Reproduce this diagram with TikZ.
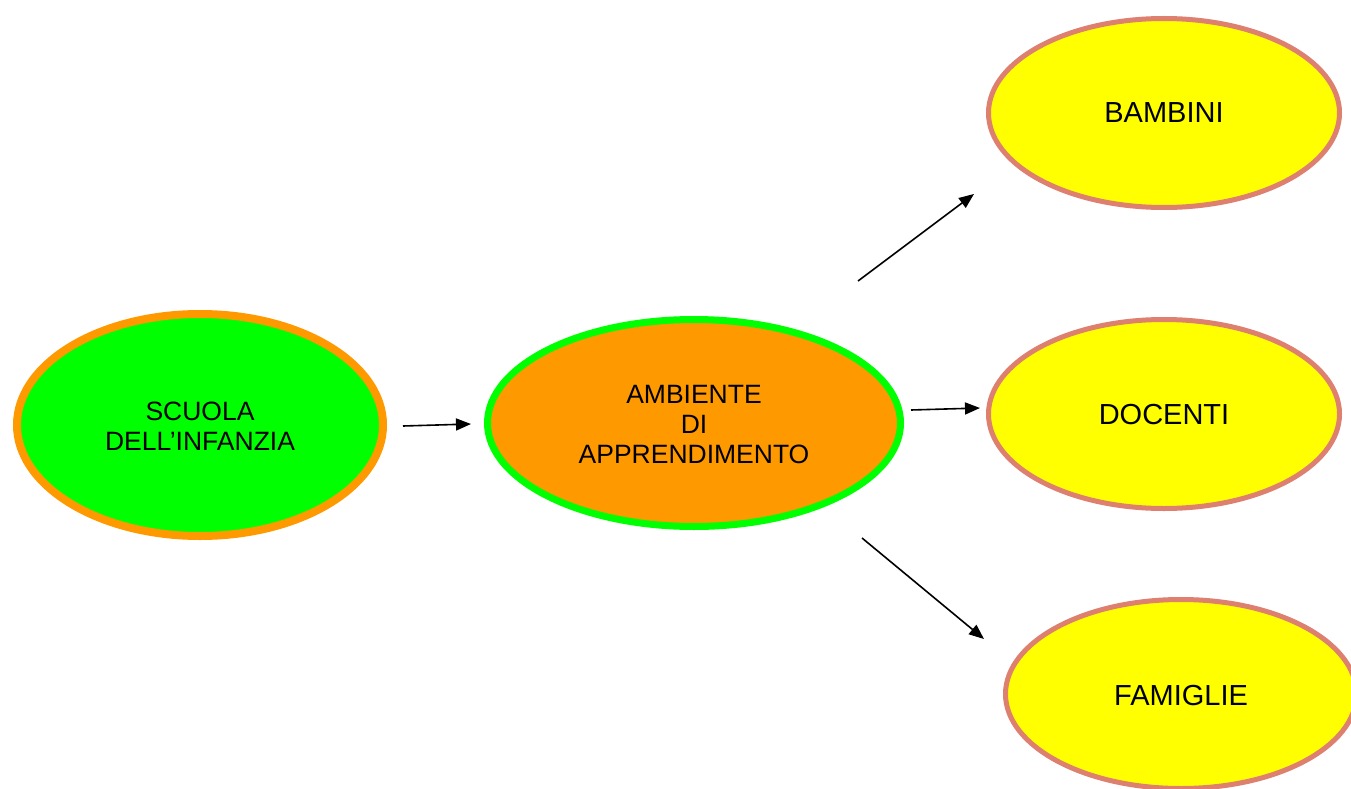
\documentclass[tikz,border=0pt]{standalone}
\usepackage{fontspec}
\setmainfont{Liberation Sans}
\usetikzlibrary{shapes.geometric,arrows.meta}
\definecolor{lgreen}{RGB}{0,255,0}
\definecolor{lorange}{RGB}{255,153,0}
\definecolor{lyellow}{RGB}{255,255,0}
\definecolor{salmon}{RGB}{222,128,112}
\begin{document}
\begin{tikzpicture}[x=1pt,y=-1pt,
  bubble/.style={ellipse,inner sep=0pt,align=center,font=\fontsize{26.5}{30}\selectfont},
  outer/.style={bubble,draw=salmon,fill=lyellow,line width=5pt,minimum width=351pt,minimum height=189pt,font=\fontsize{29}{30}\selectfont},
  conn/.style={line width=1.6pt,-{Triangle[length=15pt,width=12pt]}}]
\useasboundingbox (0,0) rectangle (1351,789);
\begin{scope}
\clip (0,0) rectangle (1351,789);
\node[bubble,draw=lorange,fill=lgreen,line width=8pt,minimum width=366pt,minimum height=222pt] (scuola) at (200,425) {\raisebox{-4pt}[\height][\depth]{\begin{tabular}{@{}c@{}}SCUOLA\\DELL’INFANZIA\end{tabular}}};
\node[bubble,draw=lgreen,fill=lorange,line width=7pt,minimum width=413pt,minimum height=207pt] (ambiente) at (694,423) {\raisebox{-4.5pt}[\height][\depth]{\begin{tabular}{@{}c@{}}AMBIENTE\\DI\\APPRENDIMENTO\end{tabular}}};
\node[outer] (bambini) at (1164,113) {BAMBINI};
\node[outer] (docenti) at (1164,414) {\raisebox{-1pt}[\height][\depth]{DOCENTI}};
\node[outer] (famiglie) at (1181,694) {\raisebox{-2pt}[\height][\depth]{FAMIGLIE}};
\end{scope}
\coordinate (a1s) at (403,426); \coordinate (a1e) at (471,424);
\coordinate (a2s) at (858,281); \coordinate (a2e) at (974,194);
\coordinate (a3s) at (911,410); \coordinate (a3e) at (980,408);
\coordinate (a4s) at (862,538); \coordinate (a4e) at (984,639);
\draw[conn] (a1s) -- (a1e);
\draw[conn] (a2s) -- (a2e);
\draw[conn] (a3s) -- (a3e);
\draw[conn] (a4s) -- (a4e);
\end{tikzpicture}
\end{document}
